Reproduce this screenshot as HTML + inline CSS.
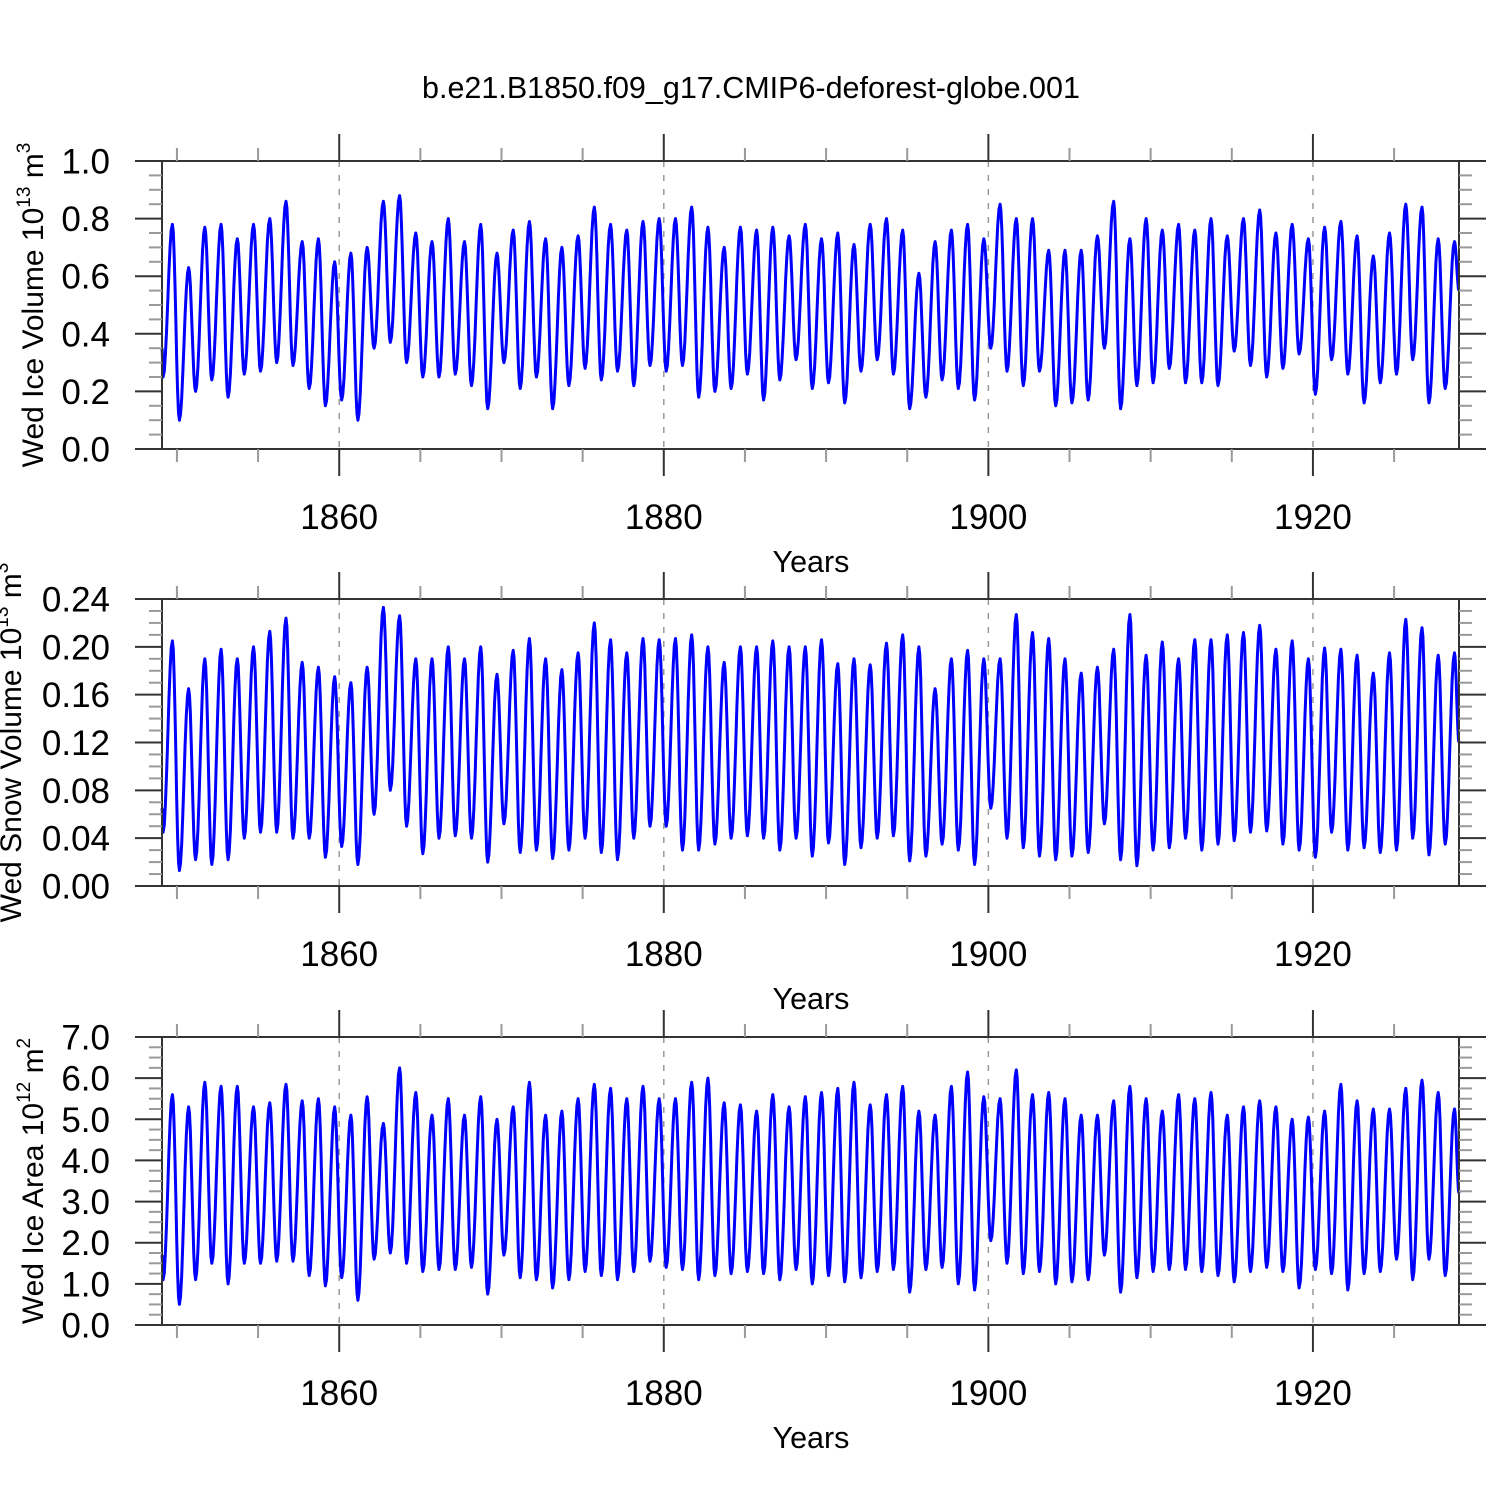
<!DOCTYPE html>
<html><head><meta charset="utf-8"><style>
html,body{margin:0;padding:0;background:#fff;}
svg{display:block;font-family:"Liberation Sans",sans-serif;}
</style></head><body>
<svg id="chart" width="1500" height="1500" viewBox="0 0 1500 1500" xmlns="http://www.w3.org/2000/svg">
<text x="751" y="98" font-size="30.5" text-anchor="middle">b.e21.B1850.f09_g17.CMIP6-deforest-globe.001</text>
</svg>
<script>
// ---- data: per-year seasonal minima (late summer) and maxima (winter), years 1849..1928
const years = Array.from({length:80},(_,i)=>1849+i);
const iceVolMax = [0.78,0.63,0.77,0.78,0.73,0.78,0.80,0.86,0.72,0.73,0.65,0.68,0.70,0.86,0.88,0.75,0.72,0.80,0.72,0.78,0.68,0.76,0.79,0.73,0.70,0.74,0.84,0.78,0.76,0.79,0.80,0.80,0.84,0.77,0.70,0.77,0.76,0.77,0.74,0.78,0.73,0.75,0.71,0.78,0.80,0.76,0.61,0.72,0.76,0.78,0.73,0.85,0.80,0.80,0.69,0.69,0.69,0.74,0.86,0.73,0.80,0.76,0.78,0.76,0.80,0.74,0.80,0.83,0.75,0.78,0.73,0.77,0.79,0.74,0.67,0.75,0.85,0.84,0.73,0.72];
const iceVolMin = [0.25,0.10,0.20,0.24,0.18,0.26,0.27,0.30,0.29,0.21,0.15,0.17,0.10,0.35,0.37,0.30,0.25,0.25,0.26,0.22,0.14,0.30,0.21,0.25,0.14,0.22,0.28,0.24,0.27,0.22,0.29,0.27,0.29,0.18,0.20,0.21,0.26,0.17,0.24,0.31,0.21,0.23,0.16,0.27,0.31,0.26,0.14,0.18,0.24,0.21,0.17,0.35,0.27,0.22,0.27,0.15,0.16,0.17,0.35,0.14,0.22,0.23,0.28,0.23,0.23,0.22,0.34,0.29,0.25,0.28,0.33,0.19,0.31,0.26,0.16,0.23,0.26,0.31,0.16,0.21];
const iceVolEnds = [0.35,0.55];
const snowVolMax = [0.205,0.165,0.19,0.198,0.19,0.20,0.213,0.224,0.187,0.183,0.175,0.17,0.183,0.233,0.226,0.19,0.19,0.20,0.19,0.20,0.177,0.197,0.207,0.19,0.181,0.195,0.22,0.206,0.195,0.207,0.206,0.207,0.21,0.20,0.187,0.20,0.20,0.205,0.20,0.20,0.206,0.186,0.19,0.185,0.203,0.21,0.20,0.165,0.19,0.197,0.19,0.19,0.227,0.212,0.207,0.19,0.178,0.183,0.198,0.227,0.193,0.204,0.19,0.206,0.206,0.21,0.212,0.218,0.198,0.205,0.19,0.199,0.198,0.193,0.178,0.195,0.223,0.216,0.193,0.195];
const snowVolMin = [0.045,0.013,0.022,0.018,0.022,0.04,0.045,0.045,0.04,0.04,0.024,0.033,0.018,0.06,0.08,0.05,0.027,0.04,0.042,0.04,0.02,0.052,0.028,0.03,0.023,0.03,0.04,0.028,0.022,0.04,0.05,0.05,0.03,0.03,0.035,0.04,0.042,0.04,0.03,0.04,0.025,0.036,0.018,0.032,0.04,0.042,0.021,0.025,0.035,0.03,0.018,0.065,0.04,0.032,0.025,0.022,0.025,0.028,0.052,0.022,0.017,0.03,0.032,0.04,0.03,0.035,0.038,0.045,0.046,0.035,0.03,0.024,0.045,0.03,0.032,0.028,0.03,0.04,0.026,0.035];
const snowVolEnds = [0.065,0.12];
const iceAreaMax = [5.6,5.3,5.9,5.8,5.8,5.3,5.4,5.85,5.45,5.5,5.3,5.1,5.55,4.9,6.25,5.65,5.1,5.5,5.1,5.55,5.0,5.3,5.9,5.1,5.2,5.5,5.85,5.75,5.5,5.8,5.5,5.5,5.9,6.0,5.4,5.35,5.2,5.6,5.3,5.55,5.65,5.75,5.9,5.35,5.6,5.8,5.2,5.1,5.8,6.15,5.55,5.5,6.2,5.6,5.65,5.5,5.1,5.1,5.45,5.8,5.5,5.2,5.6,5.5,5.65,5.1,5.3,5.45,5.3,5.0,5.05,5.2,5.85,5.45,5.25,5.25,5.75,5.95,5.65,5.25];
const iceAreaMin = [1.1,0.5,1.1,1.5,1.0,1.5,1.5,1.55,1.55,1.2,0.95,1.15,0.6,1.6,1.75,1.5,1.3,1.35,1.35,1.4,0.75,1.7,1.15,1.1,0.9,1.1,1.3,1.2,1.1,1.3,1.55,1.4,1.35,1.1,1.2,1.25,1.3,1.25,1.1,1.35,1.0,1.2,1.05,1.15,1.3,1.35,0.8,1.35,1.4,1.0,0.85,2.05,1.5,1.25,1.3,1.0,1.05,1.1,1.7,0.8,1.15,1.3,1.35,1.35,1.3,1.2,1.05,1.3,1.4,1.3,0.9,1.35,1.25,0.85,1.25,1.3,1.6,1.1,1.6,1.2];
const iceAreaEnds = [1.7,3.2];
const xTickLabels = ["1860","1880","1900","1920"];
const ice1Ticks = ["0.0","0.2","0.4","0.6","0.8","1.0"];
const snowTicks = ["0.00","0.04","0.08","0.12","0.16","0.20","0.24"];
const areaTicks = ["0.0","1.0","2.0","3.0","4.0","5.0","6.0","7.0"];

const NS="http://www.w3.org/2000/svg";
const svg=document.getElementById('chart');
const X0=162,X1=1459,T0=1849.08,T1=1929.0;
function xs(t){return X0+(t-T0)/(T1-T0)*(X1-X0);}
function mk(tag,attrs,parent){const e=document.createElementNS(NS,tag);for(const k in attrs)e.setAttribute(k,attrs[k]);(parent||svg).appendChild(e);return e;}

const panels=[
 {key:'ice-volume',top:161,bot:449,ymax:1.0,major:0.2,minor:0.05,ticks:ice1Ticks,mx:iceVolMax,mn:iceVolMin,ends:iceVolEnds,tx:43,title:['Wed Ice Volume 10','13',' m','3']},
 {key:'snow-volume',top:599,bot:886,ymax:0.24,major:0.04,minor:0.01,ticks:snowTicks,mx:snowVolMax,mn:snowVolMin,ends:snowVolEnds,tx:21,title:['Wed Snow Volume 10','13',' m','3']},
 {key:'ice-area',top:1037,bot:1325,ymax:7.0,major:1.0,minor:0.25,ticks:areaTicks,mx:iceAreaMax,mn:iceAreaMin,ends:iceAreaEnds,tx:43,title:['Wed Ice Area 10','12',' m','2']}
];
panels.forEach(p=>{
 const g=mk('g',{});
 
 
 const ys=v=>p.bot-v/p.ymax*(p.bot-p.top);
 xTickLabels.forEach(l=>{const x=xs(+l);
  const gl=mk('line',{x1:x,x2:x,y1:p.top,y2:p.bot,stroke:'#999','stroke-width':1.5,'stroke-dasharray':'6,8'},g);
  });
 const keys=[[T0,p.ends[0]]];
 years.forEach((y,i)=>{keys.push([y+0.15,p.mn[i]]);keys.push([y+0.72,p.mx[i]]);});
 keys.push([T1,p.ends[1]]);
 let d='';
 for(let k=0;k<keys.length-1;k++){const [ta,va]=keys[k],[tb,vb]=keys[k+1];const n=8;
  for(let s=(k?1:0);s<=n;s++){const f=s/n,w=(1-Math.cos(Math.PI*f))/2;const t=ta+(tb-ta)*f,v=va+(vb-va)*w;
   d+=(d?'L':'M')+xs(t).toFixed(1)+','+ys(v).toFixed(1);}}
 const path=mk('path',{d:d,fill:'none',stroke:'#0000ff','stroke-width':3,'stroke-linejoin':'round'},g);
 
 const fr=mk('rect',{x:X0,y:p.top,width:X1-X0,height:p.bot-p.top,fill:'none',stroke:'#333','stroke-width':2},g);
 
 for(let yr=1850;yr<=1925;yr+=5){const x=xs(yr);const maj=yr%20===0;const L=maj?27:13;
  mk('line',{x1:x,x2:x,y1:p.top,y2:p.top-L,stroke:maj?'#333':'#999','stroke-width':2},g);
  mk('line',{x1:x,x2:x,y1:p.bot,y2:p.bot+L,stroke:maj?'#333':'#999','stroke-width':2},g);}
 xTickLabels.forEach(l=>{const t=mk('text',{x:xs(+l),y:p.bot+80,'font-size':35,'text-anchor':'middle'},g);t.textContent=l;
  });
 const xt=mk('text',{x:811,y:p.bot+123,'font-size':30.5,'text-anchor':'middle'},g);xt.textContent='Years';
 
 const nmin=Math.round(p.ymax/p.minor);
 for(let k=0;k<=nmin;k++){const v=k*p.minor,y=ys(v);const maj=Math.abs(v/p.major-Math.round(v/p.major))<1e-6;const L=maj?27:13;
  mk('line',{x1:X0,x2:X0-L,y1:y,y2:y,stroke:maj?'#333':'#999','stroke-width':2},g);
  mk('line',{x1:X1,x2:X1+L,y1:y,y2:y,stroke:maj?'#333':'#999','stroke-width':2},g);}
 p.ticks.forEach((l,k)=>{const t=mk('text',{x:110,y:ys(k*p.major)+12.5,'font-size':35,'text-anchor':'end'},g);t.textContent=l;
  });
 const cy=(p.top+p.bot)/2;
 const yt=mk('text',{x:0,y:0,'font-size':30,'text-anchor':'middle',transform:`translate(${p.tx},${cy}) rotate(-90)`},g);
 
 p.title.forEach((s,i)=>{const ts=mk('tspan',{},yt);ts.textContent=s;if(i%2===1){ts.setAttribute('font-size','19');ts.setAttribute('dy','-13');}else if(i>0){ts.setAttribute('dy','13');}});
});
</script>
</body></html>
